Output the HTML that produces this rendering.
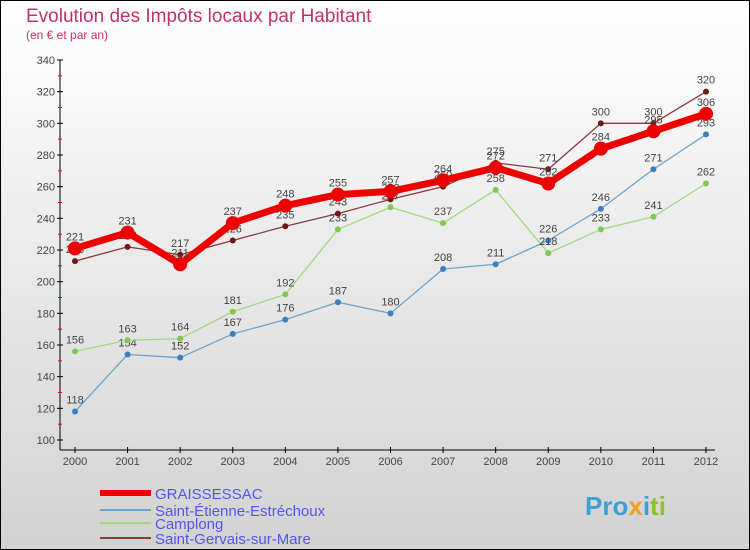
<!DOCTYPE html>
<html><head><meta charset="utf-8"><style>
body{margin:0}
#c{width:750px;height:550px;position:relative;box-sizing:border-box;border:1px solid #000;background:linear-gradient(#fff,#d2d2d2);font-family:"Liberation Sans",sans-serif;overflow:hidden}
</style></head><body>
<div id="c">
<svg id="s" width="750" height="550" style="position:absolute;left:-1px;top:-1px">
<text x="26" y="22" font-size="19" fill="#c0336a">Evolution des Impôts locaux par Habitant</text>
<text x="26" y="39" font-size="12" fill="#c0336a">(en € et par an)</text>
<g id="ax"></g><g id="series"></g><g id="lg"></g>
<text x="585" y="515" font-size="26" font-weight="bold" fill="#3aa0d8">Pro<tspan fill="#f0a020">x</tspan><tspan fill="#3aa0d8">i</tspan><tspan fill="#90c030">ti</tspan></text>
</svg>
</div>
<script>
const years=[2000,2001,2002,2003,2004,2005,2006,2007,2008,2009,2010,2011,2012];
const graissessac=[221,231,211,237,248,255,257,264,272,262,284,295,306];
const saintEtienne=[118,154,152,167,176,187,180,208,211,226,246,271,293];
const camplong=[156,163,164,181,192,233,247,237,258,218,233,241,262];
const saintGervais=[213,222,217,226,235,243,252,260,275,271,300,300,320];
const yTicks=[100,120,140,160,180,200,220,240,260,280,300,320,340];
const NS="http://www.w3.org/2000/svg";
const x=i=>75+i*(706-75)/(years.length-1);
const y=v=>440-(v-100)*(380/240);
function mk(p,t,a){const e=document.createElementNS(NS,t);for(const k in a)e.setAttribute(k,a[k]);p.appendChild(e);return e;}
const ax=document.getElementById('ax');
mk(ax,'line',{x1:60,y1:60,x2:60,y2:450,stroke:'#000'});
mk(ax,'line',{x1:60,y1:450,x2:715,y2:450,stroke:'#000'});
yTicks.forEach(v=>{
 mk(ax,'line',{x1:57,y1:y(v),x2:63,y2:y(v),stroke:'#000'});
 const t=mk(ax,'text',{x:55,y:y(v)+4,'font-size':11,fill:'#444','text-anchor':'end'});t.textContent=v;
 
 
 if(v<340){mk(ax,'line',{x1:58,y1:y(v+10),x2:62,y2:y(v+10),stroke:'#e00'});}
});
years.forEach((yr,i)=>{
 mk(ax,'line',{x1:x(i),y1:447,x2:x(i),y2:453,stroke:'#000'});
 const t=mk(ax,'text',{x:x(i),y:465,'font-size':11,fill:'#444','text-anchor':'middle'});t.textContent=yr;
 
 
});
const S=document.getElementById('series');
const defs=[
 ['saint-etienne',saintEtienne,'#6fa4cc',1.3,3,'#3a80c0'],
 ['camplong',camplong,'#a4d880',1.3,3,'#80c850'],
 ['saint-gervais',saintGervais,'#8a3a3a',1.3,3,'#6a1a1a'],
 ['graissessac',graissessac,'#ee0000',7,7,'#ee0000']];
defs.forEach(([n,d,c,w,r,mc])=>{
 const g=mk(S,'g',{});
 
 
 mk(g,'polyline',{points:d.map((v,i)=>x(i)+','+y(v)).join(' '),fill:'none',stroke:c,'stroke-width':w,'stroke-linejoin':'round'});
 d.forEach((v,i)=>{
  const p=mk(g,'circle',{cx:x(i),cy:y(v),r:r,fill:mc});
  
  
  const t=mk(g,'text',{x:x(i),y:y(v)-8,'font-size':11,fill:'#444','text-anchor':'middle'});t.textContent=v;
  
  
 });
});
const lg=document.getElementById('lg');
const items=[['GRAISSESSAC','#ee0000',6,493],['Saint-Étienne-Estréchoux','#6fa4cc',2,510],['Camplong','#a4d880',2,523],['Saint-Gervais-sur-Mare','#8a3a3a',2,538]];
items.forEach(([l,c,w,yy])=>{
 const g=mk(lg,'g',{});
 
 
 mk(g,'line',{x1:100,y1:yy,x2:151,y2:yy,stroke:c,'stroke-width':w});
 const t=mk(g,'text',{x:155,y:yy+6,'font-size':15,fill:'#5555ee'});t.textContent=l;
});
</script>
</body></html>
